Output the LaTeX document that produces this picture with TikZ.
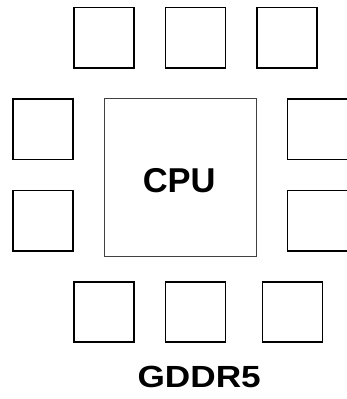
\documentclass[tikz,border=0pt]{standalone}
\usepackage{fontspec}
\setmainfont{Liberation Sans}
\begin{document}
\begin{tikzpicture}[x=1pt,y=-1pt,
  chip/.style={draw=black,line width=1.8pt,minimum width=60pt,minimum height=60.5pt,inner sep=0pt,outer sep=0pt},
  cpubox/.style={draw=black!75,line width=0.9pt,minimum width=151.5pt,minimum height=158pt,inner sep=0pt}]
  \useasboundingbox (0,0) rectangle (347,399);
  \clip (0,0) rectangle (347,399);
  % processor die
  \node[cpubox] (cpu) at (180.5,177.8) {};
  \node[anchor=base,font=\bfseries\fontsize{34.5}{40}\selectfont] (cpulabel) at (179.2,192.3) {CPU};
  % memory chips, top row
  \node[chip] (t1) at (104.2,37.8) {};
  \node[chip] (t2) at (195.5,37.8) {};
  \node[chip] (t3) at (286.7,37.8) {};
  % left column
  \node[chip] (l1) at (43.3,129.2) {};
  \node[chip] (l2) at (43.3,220.8) {};
  % right column (running off the edge)
  \node[chip] (r1) at (317.5,129.2) {};
  \node[chip] (r2) at (317.5,220.8) {};
  % bottom row
  \node[chip] (b1) at (104.2,312) {};
  \node[chip] (b2) at (195.5,312) {};
  \node[chip] (b3) at (292.5,312) {};
  % caption
  \node[anchor=base,xscale=1.15,font=\bfseries\fontsize{30.6}{36}\selectfont] (mem) at (199.2,387.7) {GDDR5};
\end{tikzpicture}
\end{document}
